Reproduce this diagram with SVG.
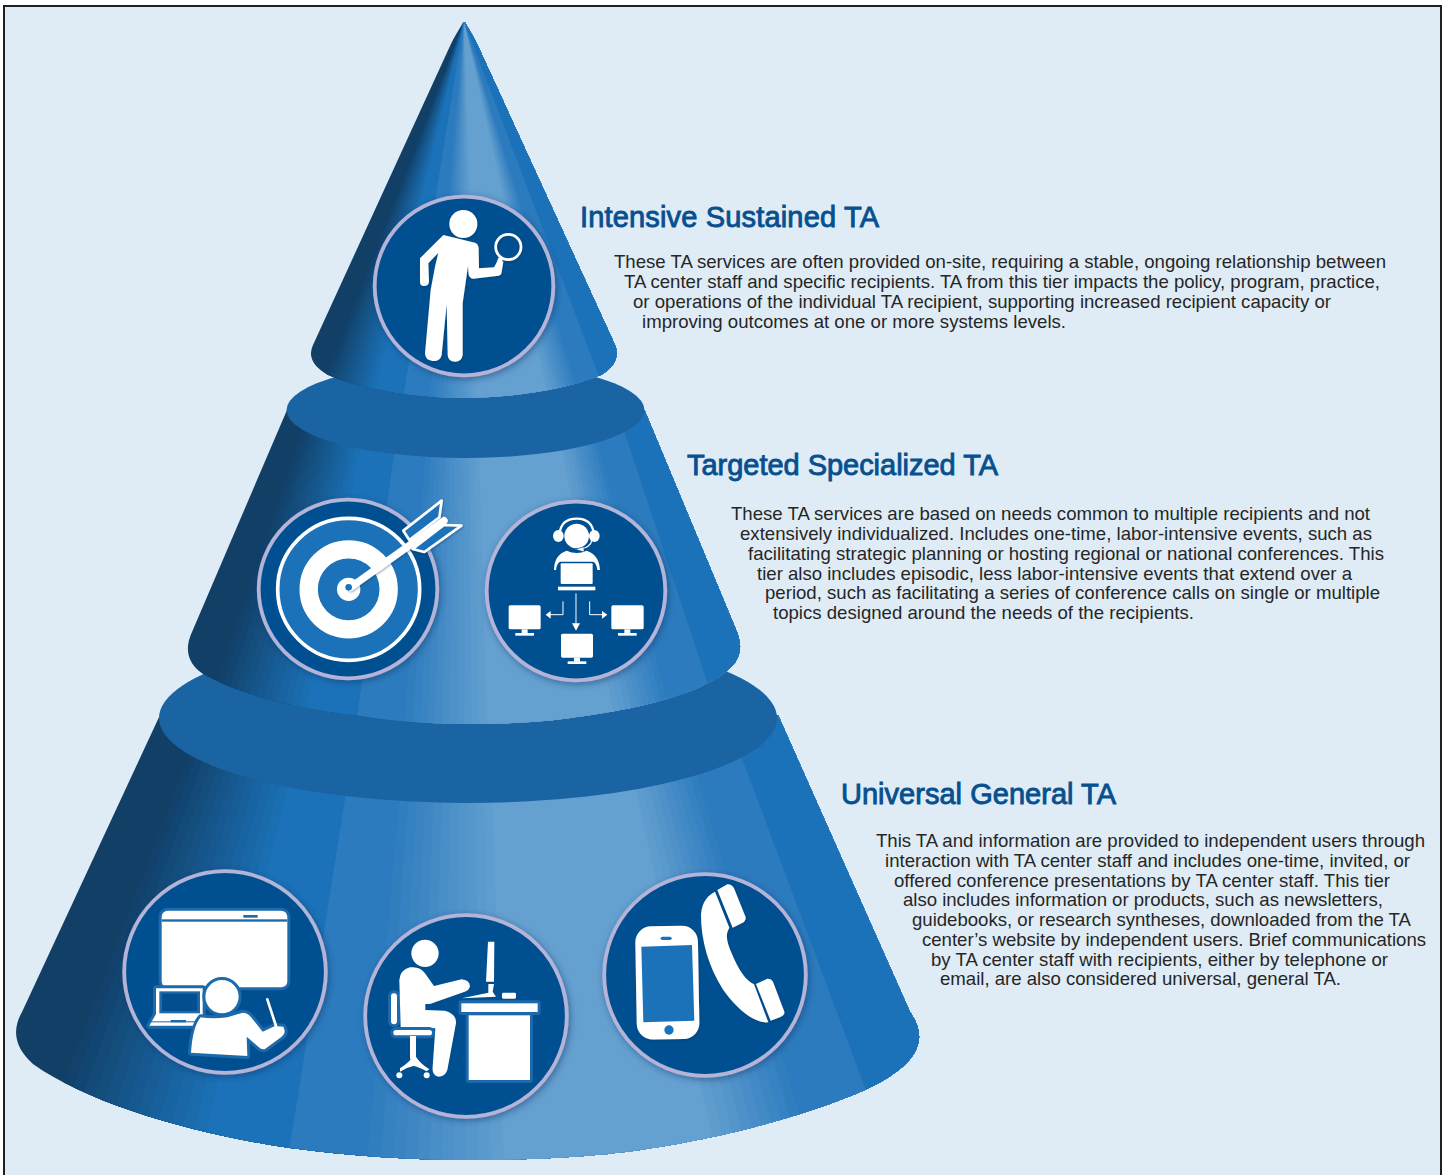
<svg xmlns="http://www.w3.org/2000/svg" width="1445" height="1175" viewBox="0 0 1445 1175">
<style>
.t{font-family:"Liberation Sans",Arial,sans-serif;font-size:18.6px;fill:#262626}
.h{font-family:"Liberation Sans",Arial,sans-serif;font-size:29px;fill:#07508f;stroke:#07508f;stroke-width:.9px}
.disc{fill:#054f90;stroke:#b3b4d8;stroke-width:3.8;filter:url(#sh)}
.w{fill:#fff}
.wl{fill:#fff;stroke:#1c69ac;stroke-width:18;paint-order:stroke;stroke-linejoin:round}
.top{fill:#1a64a4}
</style>
<defs>
<filter id="sh" x="-20%" y="-20%" width="140%" height="140%"><feDropShadow dx="1.5" dy="2" stdDeviation="3" flood-color="#0b2f63" flood-opacity=".5"/></filter>
<filter id="sh2" x="-20%" y="-20%" width="150%" height="150%"><feDropShadow dx="2" dy="3" stdDeviation="3" flood-color="#02305f" flood-opacity=".45"/></filter>
<clipPath id="c1"><path d="M461 22L467 22L615 345Q622 362 601 375C565 390 510 398 464 398C420 398 365 390 328 375Q305 362 313 345Z"/></clipPath>
<clipPath id="c2"><path d="M287 410L192 632Q180 658 203 674C240 695 300 709 355 715C390 721 430 724 465 724C510 724 545 722 577 717C630 710 670 700 698 688C728 674 748 660 737 632L644.500 410Z"/></clipPath>
<clipPath id="c3"><path d="M160 715L22 1012Q6 1040 33 1064C90 1105 200 1135 290 1148C350 1156 410 1160 468 1160C540 1160 600 1156 640 1150C720 1138 800 1118 865 1090C918 1065 930 1040 910 1012L778 715Z"/></clipPath>
<g id="fan">
<polygon points="0,0 -1.3,1 1.3,1" fill="#113f66"/>
<polygon points="0,0 -.855,1 1.3,1" fill="#12426c"/>
<polygon points="0,0 -.83,1 1.3,1" fill="#124672"/>
<polygon points="0,0 -.805,1 1.3,1" fill="#134a77"/>
<polygon points="0,0 -.78,1 1.3,1" fill="#144e7d"/>
<polygon points="0,0 -.755,1 1.3,1" fill="#155183"/>
<polygon points="0,0 -.73,1 1.3,1" fill="#155589"/>
<polygon points="0,0 -.705,1 1.3,1" fill="#16588f"/>
<polygon points="0,0 -.68,1 1.3,1" fill="#175c95"/>
<polygon points="0,0 -.655,1 1.3,1" fill="#18609b"/>
<polygon points="0,0 -.63,1 1.3,1" fill="#1863a1"/>
<polygon points="0,0 -.605,1 1.3,1" fill="#1967a7"/>
<polygon points="0,0 -.58,1 1.3,1" fill="#1a6bac"/>
<polygon points="0,0 -.555,1 1.3,1" fill="#1a6eb2"/>
<polygon points="0,0 -.53,1 1.3,1" fill="#1b72b8"/>
<polygon points="0,0 -.355,1 1.3,1" fill="#2c7bbe"/>
<polygon points="0,0 -.198,1 1.3,1" fill="#317ebf"/>
<polygon points="0,0 -.172,1 1.3,1" fill="#3581c1"/>
<polygon points="0,0 -.147,1 1.3,1" fill="#3a84c2"/>
<polygon points="0,0 -.123,1 1.3,1" fill="#3f87c4"/>
<polygon points="0,0 -.099,1 1.3,1" fill="#448bc5"/>
<polygon points="0,0 -.075,1 1.3,1" fill="#488ec7"/>
<polygon points="0,0 -.051,1 1.3,1" fill="#4d91c8"/>
<polygon points="0,0 -.027,1 1.3,1" fill="#5194ca"/>
<polygon points="0,0 -.002,1 1.3,1" fill="#5697cb"/>
<polygon points="0,0 .022,1 1.3,1" fill="#5b9acd"/>
<polygon points="0,0 .046,1 1.3,1" fill="#5f9dce"/>
<polygon points="0,0 .07,1 1.3,1" fill="#64a0d0"/>
<polygon points="0,0 .491,1 1.3,1" fill="#5e9cce"/>
<polygon points="0,0 .512,1 1.3,1" fill="#5999cc"/>
<polygon points="0,0 .533,1 1.3,1" fill="#5495ca"/>
<polygon points="0,0 .554,1 1.3,1" fill="#4e91c9"/>
<polygon points="0,0 .575,1 1.3,1" fill="#488dc7"/>
<polygon points="0,0 .596,1 1.3,1" fill="#428ac5"/>
<polygon points="0,0 .617,1 1.3,1" fill="#3c86c3"/>
<polygon points="0,0 .638,1 1.3,1" fill="#3782c2"/>
<polygon points="0,0 .659,1 1.3,1" fill="#317ebf"/>
<polygon points="0,0 .68,1 1.3,1" fill="#2c7bbe"/>
<polygon points="0,0 .835,1 1.3,1" fill="#1b72b8"/>
</g>
</defs>
<rect width="1445" height="1175" fill="#fff"/>
<path d="M4 1185V6H1441V1185Z" fill="#dfecf6" stroke="#1f1f1f" stroke-width="2"/>

<g id="tier-universal">
<g clip-path="url(#c3)"><use href="#fan" transform="translate(468 24) scale(514.5 1151)"/></g>
<ellipse class="top" cx="468" cy="718" rx="309" ry="85"/>
</g>
<g id="tier-targeted">
<g clip-path="url(#c2)"><use href="#fan" transform="translate(465 -50) scale(317 800)"/></g>
<ellipse class="top" cx="465.500" cy="410" rx="179" ry="48"/>
</g>
<g id="tier-intensive">
<g clip-path="url(#c1)"><use href="#fan" transform="translate(464 21) scale(182 400)"/></g>
</g>

<g id="node-intensive">
<circle class="disc" cx="464" cy="286" r="89.300"/>
<g transform="translate(340 180) scale(.33333)" filter="url(#sh2)">
<circle class="w" cx="370" cy="132" r="42"/>
<path class="w" d="M310 165L405 188Q415 192 416 205L417 265L462 262L475 240L490 245L485 275Q485 285 475 287L400 296Q390 296 386 285L384 258L368 370L368 525Q365 545 345 545Q325 545 323 525L320 372L305 525Q300 545 278 543Q255 540 255 520L272 330L285 260L295 218L265 250L267 305Q265 318 252 318Q240 318 240 305L240 235Z"/>
<path d="M482 235L470 268" stroke="#fff" stroke-width="14"/>
<circle cx="505" cy="201" r="38" fill="none" stroke="#fff" stroke-width="8"/>
</g>
</g>

<g id="node-target">
<circle class="disc" cx="348" cy="589" r="89.300"/>
<g transform="translate(240 480) scale(.33333)">
<circle cx="326" cy="328" r="213" fill="#1b72b8" stroke="#fff" stroke-width="11"/>
<circle cx="326" cy="328" r="120" fill="none" stroke="#fff" stroke-width="55"/>
<circle class="w" cx="326" cy="328" r="35"/>
<g filter="url(#sh2)">
<path d="M490 152L605 62L598 112L508 180Z" fill="#1b72b8" stroke="#fff" stroke-width="8" stroke-linejoin="round"/>
<path d="M518 207L612 135L664 137L553 216Z" fill="#1b72b8" stroke="#fff" stroke-width="8" stroke-linejoin="round"/>
<path d="M332 322L612 122" stroke="#fff" stroke-width="22" stroke-linecap="round"/>
</g>
<circle cx="326" cy="322" r="10" fill="#1b72b8"/>
</g>
</g>

<g id="node-network">
<circle class="disc" cx="576" cy="591" r="89.300"/>
<g transform="translate(240 480) scale(.33333)">
<circle class="w" cx="1010" cy="168" r="37"/>
<path d="M958 165Q962 116 1010 116Q1058 116 1062 165" fill="none" stroke="#fff" stroke-width="7"/>
<ellipse class="w" cx="955" cy="168" rx="16" ry="18"/>
<ellipse class="w" cx="1063" cy="168" rx="16" ry="18"/>
<path d="M1056 180Q1052 204 1015 208" fill="none" stroke="#fff" stroke-width="4"/>
<path d="M1006 208L1032 200L1032 216Z" fill="#fff" stroke="#054f90" stroke-width="2"/>
<path class="w" d="M980 212Q1010 226 1040 212Q1078 225 1080 270L1072 270Q1070 250 1060 245L960 245Q950 250 948 270L942 270Q942 225 980 212Z"/>
<rect class="w" x="962" y="250" width="96" height="62" rx="3"/>
<rect class="w" x="954" y="320" width="112" height="11"/>
<g fill="none" stroke="#fff" stroke-width="3"><path d="M1008 340V435"/><path d="M969 364V404H925"/><path d="M1049 364V404H1092"/></g>
<path class="w" d="M996 430H1020L1008 452ZM932 393V416L917 404ZM1086 393V416L1102 404Z"/>
<rect class="w" x="806" y="376" width="96" height="72" rx="5"/><rect class="w" x="845" y="448" width="18" height="12"/><rect class="w" x="826" y="459" width="56" height="8"/>
<rect class="w" x="1114" y="376" width="97" height="72" rx="5"/><rect class="w" x="1153" y="448" width="18" height="12"/><rect class="w" x="1134" y="459" width="56" height="8"/>
<rect class="w" x="963" y="461" width="96" height="72" rx="5"/><rect class="w" x="1002" y="533" width="18" height="12"/><rect class="w" x="983" y="544" width="56" height="8"/>
</g>
</g>

<g id="node-presenter">
<circle class="disc" cx="225" cy="972" r="100.800"/>
<g transform="translate(110 860) scale(.33333)">
<rect class="wl" x="155" y="152" width="377" height="230" rx="18"/>
<rect x="155" y="178" width="377" height="7" fill="#1c69ac"/>
<rect x="400" y="165" width="43" height="8" fill="#1c69ac"/>
<path class="wl" d="M138 385H278V470L295 497H118L138 462Z"/>
<rect x="148" y="394" width="122" height="66" fill="#1c69ac"/>
<rect x="156" y="401" width="106" height="52" fill="#054f90"/>
<rect x="120" y="484" width="170" height="3" fill="#1c69ac"/>
<rect x="182" y="480" width="46" height="7" fill="#1c69ac"/>
<circle class="wl" cx="336" cy="410" r="50"/>
<path class="wl" d="M272 472Q310 478 352 472L398 458Q412 458 422 470L458 515L495 498L520 500Q530 520 515 530L465 567Q455 570 445 560L410 530L412 588L243 578Q248 500 272 472Z"/>
<path d="M472 418L498 498" stroke="#fff" stroke-width="8" stroke-linecap="round"/>
</g>
</g>

<g id="node-desk">
<circle class="disc" cx="466" cy="1016" r="100.800"/>
<g transform="translate(110 860) scale(.33333)">
<rect class="wl" x="843" y="400" width="18" height="93" rx="9"/>
<circle class="w" cx="945" cy="280" r="41"/>
<path class="w" d="M900 322Q930 318 945 340L972 378L1055 358Q1078 360 1080 378Q1078 392 1060 397L960 432L946 432L946 450L1005 452Q1040 462 1038 490L1012 630Q1005 650 985 650Q965 645 968 620L976 505L872 502L868 360Q870 330 900 322Z"/>
<rect class="wl" x="850" y="510" width="116" height="16" rx="8"/>
<rect class="w" x="900" y="528" width="18" height="70"/>
<path class="w" d="M870 625Q900 605 908 590L918 590Q930 610 958 628L950 634Q925 620 910 618Q890 622 870 635Z"/>
<circle class="w" cx="868" cy="646" r="9"/><circle class="w" cx="950" cy="646" r="9"/>
<path class="w" d="M1134 245H1153L1152 365H1128Z"/>
<path class="w" d="M1135 372H1152L1148 395L1158 410L1056 415L1135 398Z"/>
<rect class="w" x="1176" y="398" width="42" height="18" rx="4"/>
<rect class="wl" x="1054" y="430" width="229" height="26"/>
<rect class="wl" x="1076" y="466" width="184" height="194"/>
</g>
</g>

<g id="node-phone">
<circle class="disc" cx="705" cy="975" r="100.800"/>
<g transform="translate(590 860) scale(.33333)" filter="url(#sh2)">
<rect class="w" x="138" y="198" width="188" height="340" rx="48" transform="rotate(-1 232 368)"/>
<path d="M154 260L306 255L313 482L160 487Z" fill="#1b72b8"/>
<rect x="212" y="230" width="33" height="10" rx="5" fill="#1b72b8"/>
<circle cx="237" cy="510" r="14" fill="#1b72b8"/>
<path class="w" d="M375 95L418 203C405 225 410 245 425 280C445 330 470 365 492 373L535 487C500 490 450 460 400 390C355 320 333 240 333 165C335 125 355 105 375 95Z"/>
<path class="w" d="M382 90L412 73Q425 72 432 85L467 172Q468 184 455 190L428 203Z"/>
<path class="w" d="M498 372L532 356Q545 355 550 368L583 455Q585 465 573 470L542 482Z"/>
</g>
</g>

<g id="labels">
<text class="h" x="580" y="227" textLength="299">Intensive Sustained TA</text>
<text class="t" x="614" y="268.200" textLength="772">These TA services are often provided on-site, requiring a stable, ongoing relationship between</text>
<text class="t" x="624" y="288" textLength="756">TA center staff and specific recipients. TA from this tier impacts the policy, program, practice,</text>
<text class="t" x="633" y="307.700" textLength="698">or operations of the individual TA recipient, supporting increased recipient capacity or</text>
<text class="t" x="642" y="327.500" textLength="424">improving outcomes at one or more systems levels.</text>
<text class="h" x="687" y="475" textLength="311">Targeted Specialized TA</text>
<text class="t" x="731" y="520" textLength="639">These TA services are based on needs common to multiple recipients and not</text>
<text class="t" x="740" y="540" textLength="632">extensively individualized. Includes one-time, labor-intensive events, such as</text>
<text class="t" x="748" y="560" textLength="636">facilitating strategic planning or hosting regional or national conferences. This</text>
<text class="t" x="757" y="579.700" textLength="595">tier also includes episodic, less labor-intensive events that extend over a</text>
<text class="t" x="765" y="599" textLength="615">period, such as facilitating a series of conference calls on single or multiple</text>
<text class="t" x="773" y="619" textLength="421">topics designed around the needs of the recipients.</text>
<text class="h" x="841" y="804" textLength="275">Universal General TA</text>
<text class="t" x="876" y="847" textLength="549">This TA and information are provided to independent users through</text>
<text class="t" x="885" y="867" textLength="525">interaction with TA center staff and includes one-time, invited, or</text>
<text class="t" x="894" y="886.700" textLength="496">offered conference presentations by TA center staff. This tier</text>
<text class="t" x="903" y="906" textLength="480">also includes information or products, such as newsletters,</text>
<text class="t" x="912" y="926" textLength="499">guidebooks, or research syntheses, downloaded from the TA</text>
<text class="t" x="922" y="946" textLength="504">center’s website by independent users. Brief communications</text>
<text class="t" x="931" y="965.700" textLength="457">by TA center staff with recipients, either by telephone or</text>
<text class="t" x="940" y="985" textLength="401">email, are also considered universal, general TA.</text>
</g>
</svg>
